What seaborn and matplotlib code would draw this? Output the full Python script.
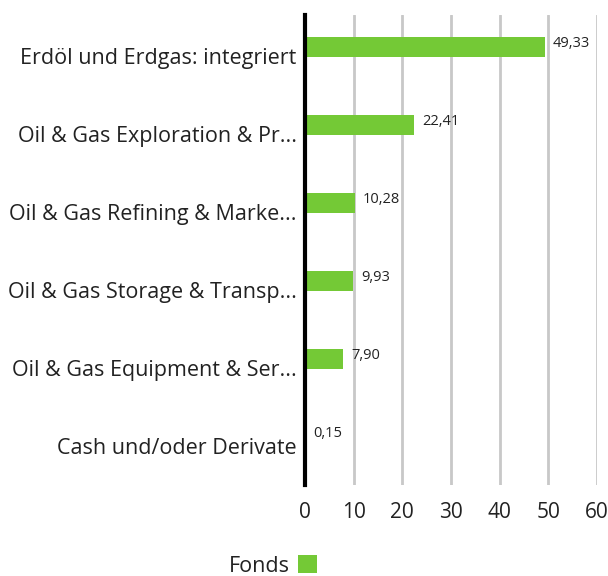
import pandas as pd
import matplotlib.pyplot as plt
import seaborn as sns
from matplotlib.patches import Patch

# Data
categories = [
    'Erdöl und Erdgas: integriert',
    'Oil & Gas Exploration & Pr...',
    'Oil & Gas Refining & Marke...',
    'Oil & Gas Storage & Transp...',
    'Oil & Gas Equipment & Ser...',
    'Cash und/oder Derivate',
]
values = [49.33, 22.41, 10.28, 9.93, 7.90, 0.15]
value_labels = ['49,33', '22,41', '10,28', '9,93', '7,90', '0,15']
x_ticks = [0, 10, 20, 30, 40, 50, 60]
series_name = 'Fonds'

df = pd.DataFrame({'Kategorie': categories, 'Wert': values, 'Serie': series_name})

sns.set_theme(style='white')
plt.rcParams['font.family'] = ['Open Sans', 'DejaVu Sans']

fig = plt.figure(figsize=(6.08, 5.76), dpi=100)
ax = fig.add_axes([305 / 608, 1 - 485 / 576, 292 / 608, 470 / 576])

green = '#74c936'
sns.barplot(data=df, x='Wert', y='Kategorie', hue='Serie', palette=[green],
            saturation=1, linewidth=0, width=0.26, ax=ax, legend=False)

# category labels sit a little below the bars
n = len(categories)
ax.set_yticks([i + 0.115 for i in range(n)])
ax.set_yticklabels(categories)
ax.set_ylim(n - 0.385, -0.41)

ax.set_xlim(0, 60)
ax.set_xticks(x_ticks)
ax.set_xticklabels([str(t) for t in x_ticks], fontsize=15, color='#222222')
ax.set_xlabel('')
ax.set_ylabel('')
ax.tick_params(axis='y', labelsize=15.5, length=0, pad=6, labelcolor='#222222')
ax.tick_params(axis='x', length=8, width=2, color='#c8c8c8', pad=4)

ax.grid(axis='x', color='#c8c8c8', linewidth=2)
ax.set_axisbelow(True)
for s in ['top', 'right', 'bottom']:
    ax.spines[s].set_visible(False)
ax.spines['left'].set_color('black')
ax.spines['left'].set_linewidth(3)
ax.spines['left'].set_zorder(5)

# value annotations
for i, (v, lab) in enumerate(zip(values, value_labels)):
    ax.text(v + 1.6, i - 0.05, lab, va='center', ha='left', fontsize=10.5, color='#222222')

# legend: text then square
fig.legend(handles=[Patch(facecolor=green, edgecolor='none')], labels=[series_name],
           loc='center', bbox_to_anchor=(273 / 608, 1 - 566 / 576), frameon=False,
           markerfirst=False, fontsize=15.5, handlelength=0.9, handleheight=0.9,
           handletextpad=0.4, labelcolor='#222222')

fig.savefig('out.png', dpi=100)
